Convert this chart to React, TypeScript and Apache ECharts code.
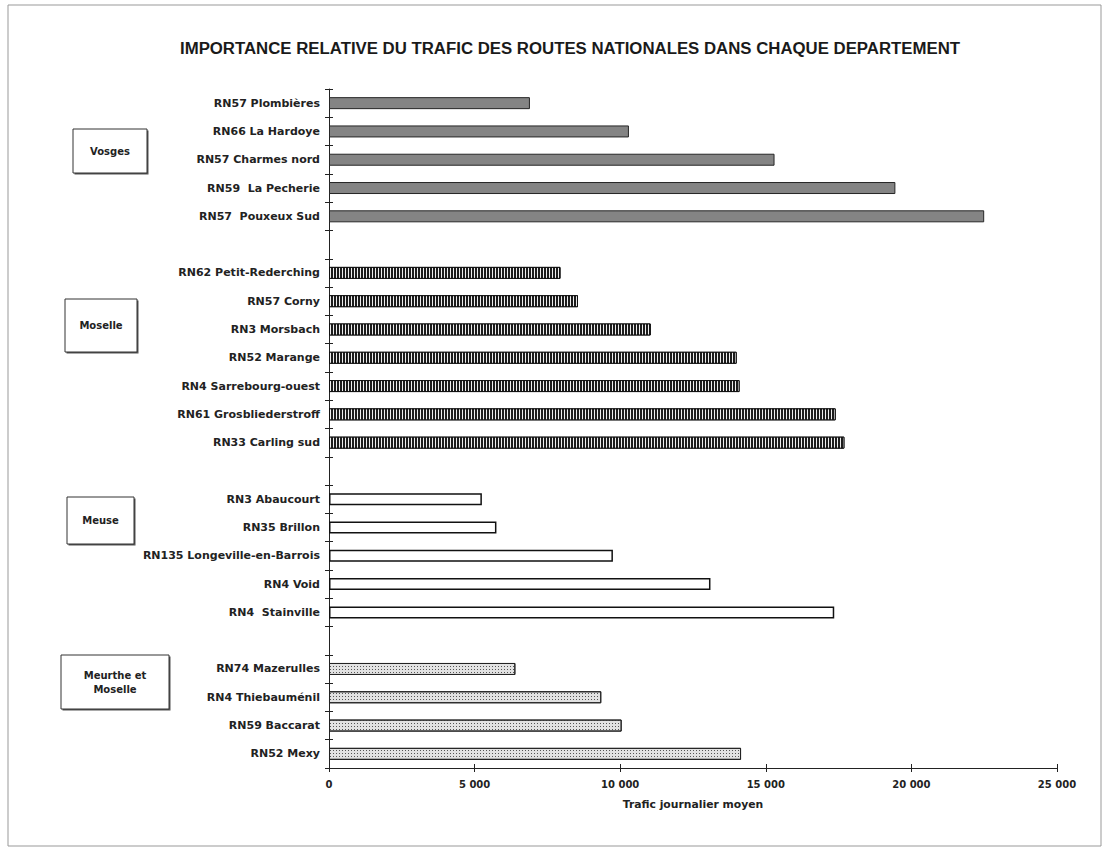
import React, { useEffect, useRef } from "react";
import * as echarts from "echarts";

const chartTitle = "IMPORTANCE RELATIVE DU TRAFIC DES ROUTES NATIONALES DANS CHAQUE DEPARTEMENT";
const axisTitle = "Trafic journalier moyen";

const departments = ["Vosges", "Moselle", "Meuse", "Meurthe et\nMoselle"];

const vosgesRoutes = ["RN57 Plombières", "RN66 La Hardoye", "RN57 Charmes nord", "RN59  La Pecherie", "RN57  Pouxeux Sud"];
const vosgesTraffic = [6900, 10300, 15300, 19450, 22500];

const moselleRoutes = ["RN62 Petit-Rederching", "RN57 Corny", "RN3 Morsbach", "RN52 Marange", "RN4 Sarrebourg-ouest", "RN61 Grosbliederstroff", "RN33 Carling sud"];
const moselleTraffic = [7950, 8550, 11050, 14000, 14100, 17400, 17700];

const meuseRoutes = ["RN3 Abaucourt", "RN35 Brillon", "RN135 Longeville-en-Barrois", "RN4 Void", "RN4  Stainville"];
const meuseTraffic = [5250, 5750, 9750, 13100, 17350];

const mmRoutes = ["RN74 Mazerulles", "RN4 Thiebauménil", "RN59 Baccarat", "RN52 Mexy"];
const mmTraffic = [6400, 9350, 10050, 14150];

const xTicks = [0, 5000, 10000, 15000, 20000, 25000];

const FONT = '"Liberation Sans", Arial, sans-serif';
const WIDE = '"DejaVu Sans", "Liberation Sans", sans-serif';

export default function App() {
  const ref = useRef<HTMLDivElement>(null);
  useEffect(() => {
    document.body.style.margin = "0";
    const chart = echarts.init(ref.current!, null, { renderer: "svg" });

    const groups = [vosgesRoutes, moselleRoutes, meuseRoutes, mmRoutes];
    const values = [vosgesTraffic, moselleTraffic, meuseTraffic, mmTraffic];
    const categories: string[] = [];
    const starts: number[] = [];
    groups.forEach((g, i) => {
      if (i > 0) categories.push(" ".repeat(i));
      starts.push(categories.length);
      g.forEach((r) => categories.push(r));
    });
    const seriesData = values.map((vals, gi) => {
      const arr: any[] = categories.map(() => "-");
      vals.forEach((v, k) => (arr[starts[gi] + k] = v));
      return arr;
    });

    const styles: any[] = [
      { color: "#848484", borderColor: "#262626", borderWidth: 1 },
      {
        color: "#1c1c1c",
        borderColor: "#111",
        borderWidth: 1,
        decal: { symbol: "rect", symbolSize: 1, symbolKeepAspect: false, color: "#eeeeee", dashArrayX: [1, 2], dashArrayY: [10, 0], rotation: 0 },
      },
      { color: "#ffffff", borderColor: "#111", borderWidth: 1.5 },
      {
        color: "#e2e2e2",
        borderColor: "#222",
        borderWidth: 1,
        decal: { symbol: "rect", symbolSize: 1, symbolKeepAspect: false, color: "#555", dashArrayX: [1, 2], dashArrayY: [1, 2], rotation: 0 },
      },
    ];

    const boxes = [
      { x: 73, y: 129, w: 74, h: 44 },
      { x: 65, y: 299, w: 72, h: 53 },
      { x: 67, y: 497, w: 67, h: 47 },
      { x: 61, y: 655, w: 108, h: 54 },
    ];
    const graphic: any[] = [
      { type: "rect", shape: { x: 8, y: 5, width: 1093, height: 841 }, style: { fill: "none", stroke: "#999", lineWidth: 1 } },
    ];
    boxes.forEach((b, i) => {
      graphic.push({ type: "rect", shape: { x: b.x + 1.5, y: b.y + 1.5, width: b.w, height: b.h }, style: { fill: "#555", stroke: "none" } });
      graphic.push({ type: "rect", shape: { x: b.x, y: b.y, width: b.w, height: b.h }, style: { fill: "#fff", stroke: "#333", lineWidth: 1 } });
      graphic.push({
        type: "text",
        x: b.x + b.w / 2,
        y: b.y + b.h / 2,
        style: { text: departments[i], font: `bold 10px ${WIDE}`, fill: "#222", textAlign: "center", textVerticalAlign: "middle", lineHeight: 14 },
      });
    });

    const fmt = (v: number) => (v === 0 ? "0" : String(v).replace(/\B(?=(\d{3})+(?!\d))/g, " "));

    chart.setOption({
      animation: false,
      backgroundColor: "#ffffff",
      title: {
        text: chartTitle,
        left: 565,
        top: 35,
        textAlign: "center",
        textStyle: { fontFamily: FONT, fontWeight: "bold", fontSize: 16.8, color: "#1a1a1a" },
      },
      graphic,
      grid: { left: 329, top: 89, width: 728, height: 679, containLabel: false },
      xAxis: [
        {
          type: "value",
          min: xTicks[0],
          max: xTicks[xTicks.length - 1],
          interval: 5000,
          name: axisTitle,
          nameLocation: "middle",
          nameGap: 31,
          nameTextStyle: { fontFamily: WIDE, fontWeight: "bold", fontSize: 10.8, color: "#222" },
          axisLine: { show: true, lineStyle: { color: "#222", width: 1 } },
          axisTick: { show: true, length: 4, lineStyle: { color: "#222" } },
          axisLabel: { formatter: fmt, margin: 11, fontFamily: WIDE, fontWeight: "bold", fontSize: 10, color: "#222" },
          splitLine: { show: false },
        },
        {
          type: "value",
          position: "bottom",
          min: xTicks[0],
          max: xTicks[xTicks.length - 1],
          interval: 5000,
          axisLine: { show: false },
          axisTick: { show: true, inside: true, length: 4, lineStyle: { color: "#222" } },
          axisLabel: { show: false },
          splitLine: { show: false },
        },
      ],
      yAxis: [
        {
          type: "category",
          data: categories,
          inverse: true,
          axisLine: { show: true, lineStyle: { color: "#222", width: 1 } },
          axisTick: { show: true, length: 4, lineStyle: { color: "#222" } },
          axisLabel: { margin: 9, fontFamily: WIDE, fontWeight: "bold", fontSize: 11, color: "#222" },
          splitLine: { show: false },
        },
        {
          type: "category",
          data: categories,
          inverse: true,
          position: "left",
          axisLine: { show: false },
          axisTick: { show: true, inside: true, length: 4, lineStyle: { color: "#222" } },
          axisLabel: { show: false },
          splitLine: { show: false },
        },
      ],
      series: seriesData.map((d, i) => ({
        type: "bar",
        name: departments[i],
        stack: "all",
        data: d,
        barWidth: 12,
        itemStyle: styles[i],
        xAxisIndex: 0,
        yAxisIndex: 0,
      })),
    });
    return () => chart.dispose();
  }, []);
  return <div ref={ref} style={{ width: 1110, height: 857 }} />;
}
